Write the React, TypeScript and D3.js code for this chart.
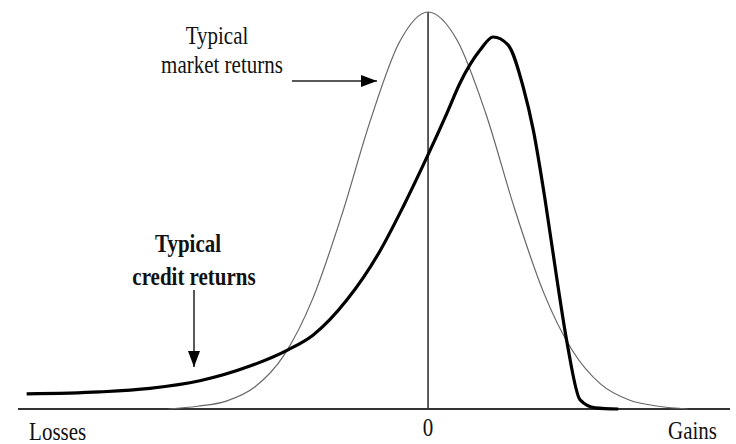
import React from "react";
import * as d3 from "d3";

// Horizontal position (in "return units", 0 = centre) and relative height (peak of market curve = 1)
const marketX = [-3.6, -3.2, -2.8, -2.4, -2.0, -1.6, -1.2, -0.8, -0.4, 0, 0.4, 0.8, 1.2, 1.6, 2.0, 2.4, 2.8, 3.2, 3.6];
const marketY = [0.0, 0.007, 0.02, 0.056, 0.135, 0.278, 0.487, 0.727, 0.923, 1.0, 0.93, 0.745, 0.505, 0.295, 0.148, 0.062, 0.022, 0.007, 0.0];

const creditX = [-5.57, -4.56, -3.86, -3.167, -2.472, -1.944, -1.597, -1.125, -0.667, -0.347, -0.014, 0.264, 0.444, 0.722, 0.903, 1.11, 1.32, 1.46, 1.625, 1.79, 1.93, 2.11, 2.32, 2.64];
const creditY = [0.038, 0.043, 0.052, 0.071, 0.108, 0.149, 0.186, 0.275, 0.398, 0.509, 0.635, 0.746, 0.821, 0.904, 0.937, 0.917, 0.811, 0.703, 0.526, 0.325, 0.166, 0.023, 0.003, 0];

const axisLabels = ["Losses", "0", "Gains"];
const axisLabelX = [-5.14, 0, 3.67];

const W = 736;
const H = 444;

function Label({ x, y, text, bold }: { x: number; y: number; text: string; bold?: boolean }) {
  return (
    <text
      transform={`translate(${x},${y}) scale(1,1.15)`}
      textAnchor="middle"
      fontSize={21}
      fontWeight={bold ? "bold" : "normal"}
      fill="#111"
    >
      {text}
    </text>
  );
}

export default function App() {
  const x = d3.scaleLinear().domain([-5.69, 4.19]).range([18, 730]);
  const y = d3.scaleLinear().domain([0, 1]).range([409, 12]);

  const market = marketX.map((v, i) => [v, marketY[i]] as [number, number]);
  const credit = creditX.map((v, i) => [v, creditY[i]] as [number, number]);

  const line = d3
    .line<[number, number]>()
    .x((d) => x(d[0]))
    .y((d) => y(d[1]))
    .curve(d3.curveMonotoneX);

  const font = "'Liberation Serif', 'Times New Roman', serif";
  const labelBaselines = [440, 436, 439];

  return (
    <svg
      width={W}
      height={H}
      style={{ position: "absolute", left: 0, top: 0, background: "#fff" }}
      fontFamily={font}
    >
      <defs>
        <marker id="ah" viewBox="0 0 16 12" refX="16" refY="6" markerWidth="16" markerHeight="12" markerUnits="userSpaceOnUse" orient="auto">
          <path d="M0,0 L16,6 L0,12 Z" fill="#000" />
        </marker>
      </defs>
      <rect width={W} height={H} fill="#fff" />
      {/* baseline axis */}
      <line x1={18} x2={730} y1={y(0)} y2={y(0)} stroke="#333" strokeWidth={2} />
      {/* vertical zero line */}
      <line x1={x(0)} x2={x(0)} y1={y(0)} y2={y(1)} stroke="#333" strokeWidth={1.6} />
      {/* market curve */}
      <path d={line(market) || ""} fill="none" stroke="#666" strokeWidth={1.2} />
      {/* credit curve */}
      <path d={line(credit) || ""} fill="none" stroke="#000" strokeWidth={3.2} strokeLinejoin="round" />

      {/* axis labels */}
      {axisLabels.map((t, i) => (
        <Label key={t} x={x(axisLabelX[i])} y={labelBaselines[i]} text={t} />
      ))}

      {/* market annotation */}
      <Label x={217} y={44} text="Typical" />
      <Label x={222} y={73} text="market returns" />
      <line x1={292} x2={377} y1={81} y2={81} stroke="#222" strokeWidth={1.5} markerEnd="url(#ah)" />

      {/* credit annotation */}
      <Label x={188} y={252} text="Typical" bold />
      <Label x={194} y={285} text="credit returns" bold />
      <line x1={194} x2={194} y1={290} y2={367} stroke="#222" strokeWidth={1.5} markerEnd="url(#ah)" />
    </svg>
  );
}
